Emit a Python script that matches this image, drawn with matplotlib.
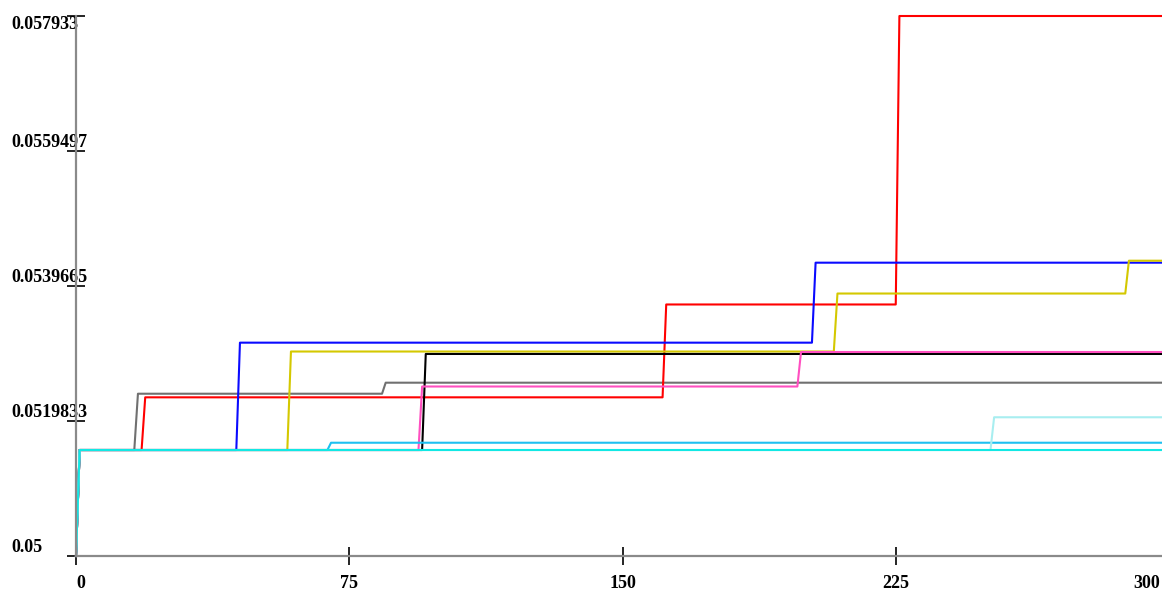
import numpy as np
import matplotlib.pyplot as plt
from matplotlib.transforms import ScaledTranslation

plt.rcParams['font.family'] = ['Liberation Serif', 'DejaVu Serif']
plt.rcParams['font.weight'] = 'bold'

# step data: (x where the level changes, new level)
y_start = 0.05
base = 0.051557

gray_steps = [(16, 0.052384), (84, 0.052546)]
red_steps = [(18, 0.052331), (161, 0.053695), (225, 0.057933)]
blue_steps = [(44, 0.053134), (202, 0.054309)]
yellow_steps = [(58, 0.053004), (208, 0.053856), (288, 0.054338)]
black_steps = [(95, 0.052968)]
pink_steps = [(94, 0.052490), (198, 0.052997)]
skyblue_steps = [(69, 0.051664)]
lightcyan_steps = [(251, 0.052038)]
cyan_steps = []

series = [
    (gray_steps, '#707070'),
    (red_steps, '#ff0000'),
    (blue_steps, '#0a0aff'),
    (yellow_steps, '#d4c800'),
    (black_steps, '#000000'),
    (pink_steps, '#ff4fc0'),
    (skyblue_steps, '#1ec0f0'),
    (lightcyan_steps, '#a8eef0'),
    (cyan_steps, '#12e8e4'),
]

x_max = 300
x = np.arange(0, x_max + 1)

y_ticks = np.linspace(0.05, 0.057933, 5)
y_labels = ['0.05', '0.0519833', '0.0539665', '0.0559497', '0.057933']
x_ticks = [0, 75, 150, 225, 300]


def build(steps):
    # hold each level until the next change, sampled once per unit
    y = np.full(len(x), base)
    y[0] = y_start
    for xc, level in steps:
        y[x > xc] = level
    return y


fig = plt.figure(figsize=(11.62, 5.94), dpi=100)
ax = fig.add_axes([76 / 1162, 38 / 594, 1093 / 1162, 540 / 594])

for steps, color in series:
    ax.plot(x, build(steps), color=color, lw=1.5, clip_on=False)

ax.set_xlim(0, x_max)
ax.set_ylim(0.05, 0.057933)

for side in ['top', 'right']:
    ax.spines[side].set_visible(False)
for side in ['left', 'bottom']:
    ax.spines[side].set_color('#8a8a8a')
    ax.spines[side].set_linewidth(1.6)

ax.set_xticks(x_ticks)
ax.set_xticklabels([str(t) for t in x_ticks])
ax.set_yticks(y_ticks)
ax.set_yticklabels(y_labels)

ax.tick_params(axis='x', direction='inout', length=13, width=1.2,
               color='black', pad=7.5, labelsize=13)
ax.tick_params(axis='y', direction='inout', length=12.5, width=1.2,
               color='black', pad=40.5, labelsize=13)

for lab in ax.get_yticklabels():
    lab.set_ha('left')
    lab.set_va('bottom')
ax.get_yticklabels()[-1].set_va('top')

xl = ax.get_xticklabels()
xl[0].set_ha('left')
xl[-1].set_ha('right')
xl[-1].set_transform(xl[-1].get_transform() +
                     ScaledTranslation(-9 / 100, 0, fig.dpi_scale_trans))

fig.savefig('out.png', dpi=100)
